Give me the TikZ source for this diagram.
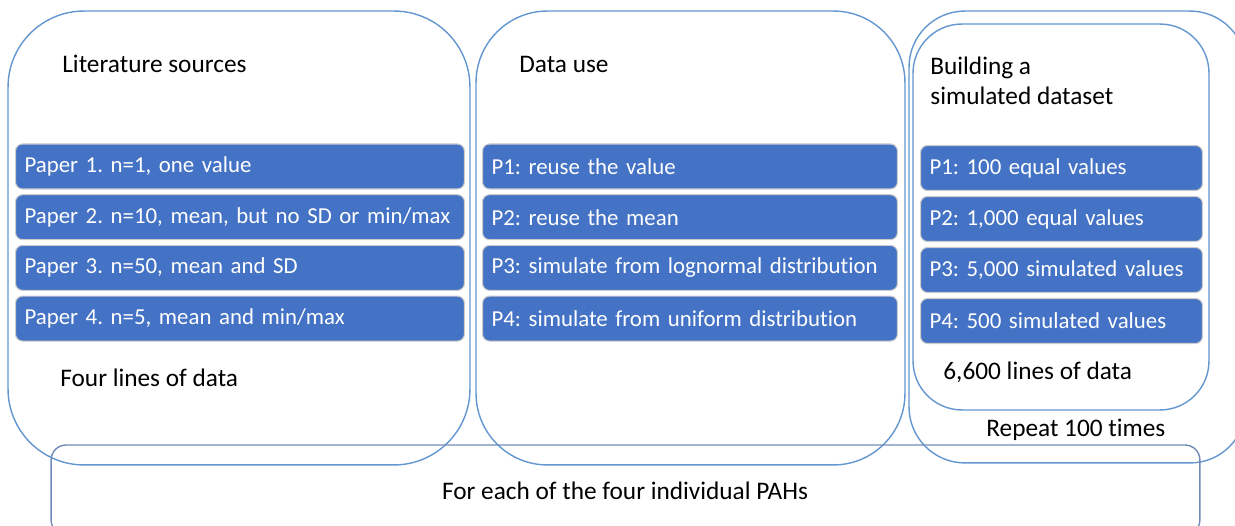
\documentclass[tikz,border=0pt]{standalone}
\usepackage{fontspec}
\setmainfont{Carlito}[Ligatures=NoCommon]
\frenchspacing
\definecolor{barblue}{RGB}{68,114,196}
\definecolor{frameblue}{RGB}{100,150,208}
\definecolor{baseblue}{RGB}{112,140,182}
\tikzset{
  bar/.style={fill=barblue, draw=white!80!black, line width=0.6pt, rounded corners=4pt,
    text=white, font=\fontsize{13}{16}\selectfont, minimum height=0.9cm, inner xsep=0.18cm,
    align=left, anchor=west},
  frame/.style={draw=frameblue, line width=0.8pt, inner sep=0pt},
  heading/.style={anchor=west, inner sep=0pt}
}

\begin{document}
\begin{tikzpicture}[x=0.02cm, y=-0.02cm, font=\fontsize{14.4}{17}\selectfont]
    \useasboundingbox (0,0) rectangle (1235,526);
    \clip (0,0) rectangle (1235,526);

    % Draw the three column frames
    \node[frame, rounded corners=1.52cm, minimum width=9.24cm, minimum height=9.08cm] (lit) at (239,238) {};
    \node[frame, rounded corners=1.43cm, minimum width=8.58cm, minimum height=9.08cm] (use) at (690.5,238) {};
    \node[frame, rounded corners=1.12cm, minimum width=6.74cm, minimum height=9.04cm] (rep) at (1077.5,237) {};
    \node[frame, rounded corners=0.98cm, minimum width=5.92cm, minimum height=7.72cm] (sim) at (1061,217) {};

    % Frame for all PAHs
    \node[frame, draw=baseblue, rounded corners=0.3cm, minimum width=22.98cm, minimum height=1.8cm] (pah) at (625.5,490) {};

    % Column titles
    \node[heading] (litTitle) at (62,64) {Literature sources};
    \node[heading] (useTitle) at (519,64) {Data use};
    \node[heading, align=left] (simTitle) at (930,81) {Building a\\simulated dataset};

    % Blue bars, one per paper
    \foreach \i/\txt in {1/{Paper 1. n=1, one value}, 2/{Paper 2. n=10, mean, but no SD or min/max},
                         3/{Paper 3. n=50, mean and SD}, 4/{Paper 4. n=5, mean and min/max}} {
        \node[bar, text width=8.62cm] (paper\i) at (15,{166.5+50.7*(\i-1)}) {\txt};
    }
    \foreach \i/\txt in {1/{P1: reuse the value}, 2/{P2: reuse the mean},
                         3/{P3: simulate from lognormal distribution}, 4/{P4: simulate from uniform distribution}} {
        \node[bar, text width=7.94cm] (use\i) at (482,{166.5+50.7*(\i-1)}) {\txt};
    }
    \foreach \i/\txt in {1/{P1: 100 equal values}, 2/{P2: 1,000 equal values},
                         3/{P3: 5,000 simulated values}, 4/{P4: 500 simulated values}} {
        \node[bar, text width=5.28cm] (sim\i) at (920,{168+51*(\i-1)}) {\txt};
    }

    % Notes under the bars
    \node[heading] (litNote) at (60,378) {Four lines of data};
    \node[heading] (simNote) at (943,372) {6,600 lines of data};
    \node[heading] (repNote) at (986,430) {Repeat 100 times};
    \node (pahNote) at (625,491) {For each of the four individual PAHs};

\end{tikzpicture}
\end{document}
